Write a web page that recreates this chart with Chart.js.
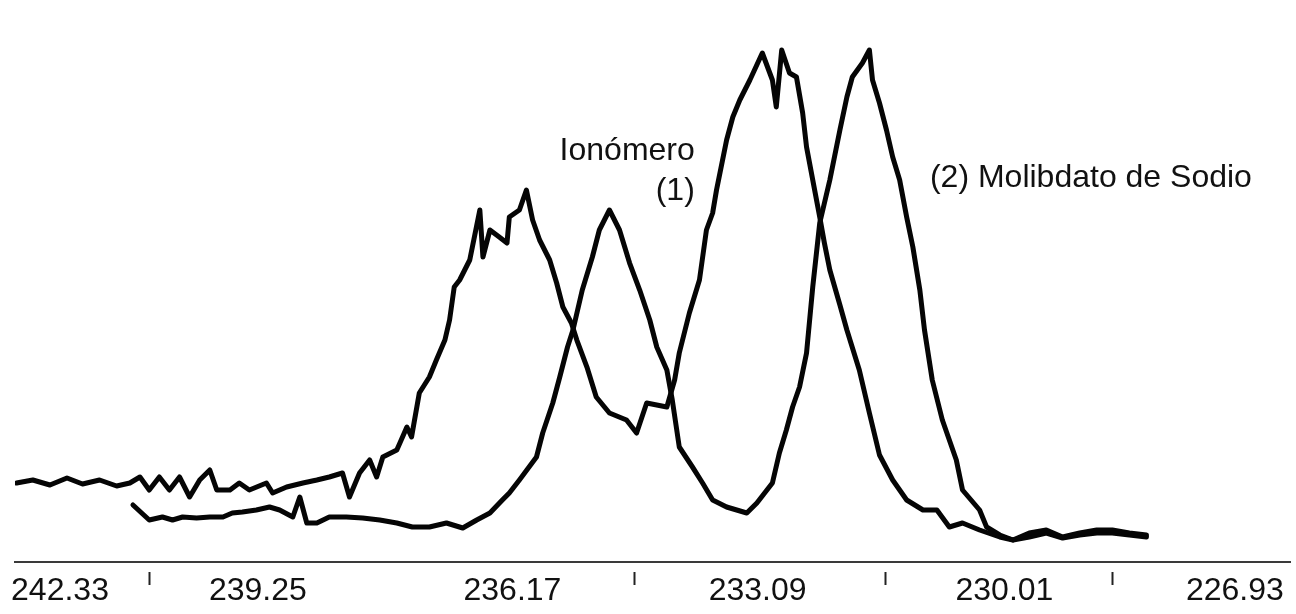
<!DOCTYPE html>
<html>
<head>
<meta charset="utf-8">
<script src="https://cdn.jsdelivr.net/npm/chart.js@4.4.1/dist/chart.umd.min.js"></script>
<style>
    html, body { margin: 0; padding: 0; background: #ffffff; }
    #wrap { position: relative; width: 1296px; height: 614px; }
</style>
</head>
<body>
<div id="wrap"><canvas id="chart"></canvas></div>
<script>
// binding energy (eV) and intensity (a.u.)
const ionEnergy = [
    242.67, 242.46, 242.24, 242.02, 241.82, 241.60, 241.38, 241.21, 241.08, 240.96,
    240.83, 240.70, 240.57, 240.44, 240.31, 240.18, 240.09, 239.92, 239.80, 239.67,
    239.45, 239.37, 239.19, 238.98, 238.80, 238.64, 238.47, 238.38, 238.25, 238.12,
    238.03, 237.95, 237.77, 237.73, 237.64, 237.58, 237.48, 237.35, 237.26, 237.15,
    237.09, 237.03, 236.96, 236.83, 236.70, 236.66, 236.57, 236.45, 236.35, 236.32,
    236.19, 236.10, 236.02, 235.93, 235.80, 235.71, 235.63, 235.52, 235.45, 235.32,
    235.20, 235.03, 234.81, 234.68, 234.55, 234.29, 234.19, 234.13, 234.00, 233.87,
    233.78, 233.70, 233.65, 233.52, 233.44, 233.35, 233.22, 233.06, 232.93, 232.88,
    232.81, 232.71, 232.62, 232.54, 232.49, 232.41, 232.32, 232.26, 232.19, 232.06,
    231.97, 231.81, 231.68, 231.55, 231.38, 231.20, 230.99, 230.81, 230.65, 230.48,
    230.26, 230.00, 229.83, 229.62, 229.40, 229.19, 228.97, 228.75, 228.55, 228.33,
    228.11
];
const ionIntensity = [
    15.8, 16.4, 15.4, 16.8, 15.6, 16.4, 15.2, 15.8, 17.0, 14.4,
    17.0, 14.4, 17.0, 13.0, 16.4, 18.4, 14.4, 14.4, 15.8, 14.4,
    15.8, 13.8, 15.0, 15.8, 16.4, 17.0, 17.8, 13.0, 17.8, 20.4,
    17.0, 21.0, 22.4, 23.8, 27.0, 25.0, 33.8, 37.0, 40.4, 44.4,
    48.4, 55.0, 56.4, 60.4, 70.4, 61.0, 66.4, 65.0, 63.8, 69.0,
    70.4, 74.4, 68.4, 64.4, 60.4, 55.8, 51.0, 47.8, 44.4, 39.0,
    33.0, 29.8, 28.4, 25.8, 31.8, 31.0, 36.4, 41.8, 49.8, 56.4,
    66.4, 69.8, 74.4, 84.4, 89.0, 92.4, 96.4, 101.8, 96.4, 91.0,
    102.4, 97.8, 97.0, 89.8, 83.0, 76.4, 69.0, 63.8, 58.4, 51.4,
    46.4, 38.4, 29.8, 21.4, 16.4, 12.4, 10.4, 10.4, 7.0, 7.8,
    6.4, 5.0, 4.4, 5.8, 6.4, 5.0, 5.8, 6.4, 6.4, 5.8,
    5.4
];

const molEnergy = [
    241.17, 240.96, 240.79, 240.66, 240.53, 240.35, 240.18, 240.01, 239.89, 239.76,
    239.58, 239.41, 239.28, 239.11, 239.02, 238.93, 238.80, 238.64, 238.42, 238.21,
    237.99, 237.77, 237.57, 237.35, 237.13, 236.92, 236.74, 236.57, 236.41, 236.32,
    236.19, 235.97, 235.89, 235.76, 235.67, 235.57, 235.50, 235.38, 235.25, 235.16,
    235.03, 234.90, 234.77, 234.64, 234.51, 234.42, 234.29, 234.22, 234.13, 233.96,
    233.83, 233.70, 233.52, 233.39, 233.26, 233.13, 232.93, 232.84, 232.75, 232.67,
    232.58, 232.49, 232.41, 232.32, 232.19, 232.06, 231.97, 231.90, 231.77, 231.68,
    231.64, 231.55, 231.46, 231.38, 231.29, 231.20, 231.12, 231.03, 230.97, 230.87,
    230.74, 230.56, 230.48, 230.26, 230.17, 230.00, 229.83, 229.62, 229.40, 229.19,
    228.97, 228.75, 228.55, 228.33, 228.11
];
const molIntensity = [
    11.4, 8.4, 9.0, 8.4, 9.0, 8.8, 9.0, 9.0, 9.8, 10.0,
    10.4, 11.0, 10.4, 9.0, 13.0, 7.8, 7.8, 9.0, 9.0, 8.8,
    8.4, 7.8, 7.0, 7.0, 7.8, 6.8, 8.4, 9.8, 12.4, 13.8,
    16.4, 21.0, 25.8, 31.8, 37.0, 43.0, 46.4, 54.4, 61.0, 66.4,
    70.4, 66.4, 59.8, 54.4, 48.4, 43.0, 38.4, 32.4, 23.0, 19.0,
    15.8, 12.4, 11.0, 10.4, 9.8, 11.8, 15.8, 21.8, 26.4, 31.0,
    35.0, 41.8, 55.0, 67.8, 76.4, 86.4, 93.0, 97.0, 99.8, 102.4,
    96.4, 91.8, 86.4, 81.0, 76.4, 69.0, 63.0, 54.4, 46.4, 36.4,
    28.4, 20.4, 14.4, 10.4, 7.0, 5.4, 4.4, 5.0, 5.8, 4.8,
    5.4, 5.8, 5.8, 5.4, 5.0
];

// the scan prints its axis numbers slightly off their nominal spots,
// so the labels sit where the original figure shows them
const tickLabels = ["242.33", "239.25", "236.17", "233.09", "230.01", "226.93"];
const tickPlaces = [242.11, 239.56, 236.28, 233.12, 229.94, 226.97];
const minorTicks = [240.96, 234.71, 231.48, 228.55];

const labelFont = "'Liberation Sans', Arial, sans-serif";

function toPoints(xs, ys) {
    return xs.map((x, i) => ({ x: x, y: ys[i] }));
}

const markPlugin = {
    id: "scanMarks",
    afterDraw(chart) {
        const { ctx, chartArea, scales } = chart;
        const xs = scales.x;
        const ys = scales.y;
        ctx.save();

        ctx.strokeStyle = "#222222";
        ctx.lineWidth = 2;
        minorTicks.forEach(v => {
            const px = Math.round(xs.getPixelForValue(v)) + 0.5;
            ctx.beginPath();
            ctx.moveTo(px, chartArea.bottom + 10);
            ctx.lineTo(px, chartArea.bottom + 23);
            ctx.stroke();
        });

        ctx.fillStyle = "#111111";
        ctx.font = "32px " + labelFont;
        ctx.textBaseline = "alphabetic";

        ctx.textAlign = "right";
        ctx.fillText("Ionómero", xs.getPixelForValue(233.93), ys.getPixelForValue(80.4));
        ctx.fillText("(1)", xs.getPixelForValue(233.93), ys.getPixelForValue(72.4));

        ctx.textAlign = "left";
        ctx.fillText("(2) Molibdato de Sodio", xs.getPixelForValue(230.90), ys.getPixelForValue(75.0));

        ctx.restore();
    }
};

function lineSet(label, xs, ys) {
    return {
        label: label,
        data: toPoints(xs, ys),
        borderColor: "#050505",
        backgroundColor: "transparent",
        borderWidth: 5,
        borderJoinStyle: "round",
        borderCapStyle: "round",
        tension: 0,
        pointRadius: 0,
        fill: false
    };
}

function createChart() {
    const ctx = document.getElementById("chart");

    new Chart(ctx, {
        type: "line",
        data: {
            datasets: [
                lineSet("Ionómero (1)", ionEnergy, ionIntensity),
                lineSet("(2) Molibdato de Sodio", molEnergy, molIntensity)
            ]
        },
        options: {
            animation: false,
            responsive: true,
            maintainAspectRatio: false,
            parsing: false,
            layout: {
                padding: { left: 15, right: 6, top: 12, bottom: 0 }
            },
            plugins: {
                legend: { display: false },
                tooltip: { enabled: false }
            },
            scales: {
                x: {
                    type: "linear",
                    reverse: true,
                    min: 226.26,
                    max: 242.69,
                    border: { display: true, color: "#3a3a3a", width: 2 },
                    grid: { display: false, drawTicks: false },
                    afterBuildTicks(scale) {
                        scale.ticks = tickPlaces.map(v => ({ value: v }));
                    },
                    afterFit(scale) {
                        scale.height = 52;
                        scale.paddingLeft = 0;
                        scale.paddingRight = 0;
                    },
                    ticks: {
                        autoSkip: false,
                        maxRotation: 0,
                        padding: 10,
                        color: "#111111",
                        font: { size: 32, family: labelFont },
                        callback: (value, index) => tickLabels[index]
                    }
                },
                y: {
                    display: false,
                    min: 0,
                    max: 110
                }
            }
        },
        plugins: [markPlugin]
    });
}

createChart();
</script>
</body>
</html>
